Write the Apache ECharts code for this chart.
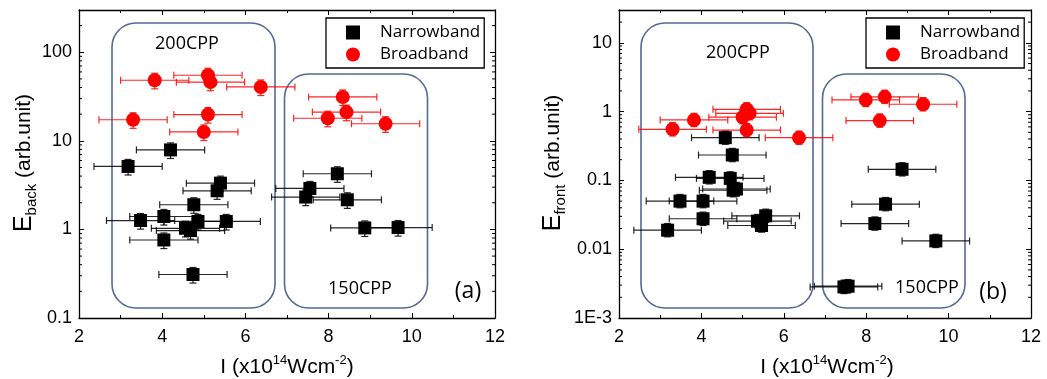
<!DOCTYPE html>
<html>
<head>
<meta charset="utf-8">
<script src="https://cdn.jsdelivr.net/npm/echarts@6/dist/echarts.min.js"></script>
<style>html,body{margin:0;padding:0;background:#fff}#c{width:1047px;height:379px}</style>
</head>
<body>
<div id="c"></div>
<script>
// ---- data ----
// Panel (a): E_back
const backNarrowX = [3.18, 4.20, 5.40, 5.32, 4.76, 3.48, 4.04, 4.86, 5.54, 4.56, 4.68, 4.04, 4.74, 8.21, 7.55, 7.45, 8.45, 8.87, 9.67];
const backNarrowY = [5.14, 7.9, 3.33, 2.73, 1.90, 1.26, 1.40, 1.23, 1.23, 1.03, 0.97, 0.76, 0.31, 4.25, 2.90, 2.32, 2.16, 1.04, 1.05];
const backBroadX = [3.82, 5.10, 5.16, 6.37, 3.30, 5.10, 5.00, 8.34, 7.98, 8.43, 9.37];
const backBroadY = [48.3, 55, 46, 40.6, 17.3, 19.8, 12.6, 31.3, 18.0, 21.1, 15.6];
// Panel (b): E_front
const frontNarrowX = [4.58, 4.75, 4.19, 4.70, 4.77, 4.85, 3.48, 4.04, 4.04, 5.56, 5.36, 5.46, 3.18, 8.87, 8.47, 8.21, 9.69, 7.46, 7.56];
const frontNarrowY = [0.418, 0.234, 0.111, 0.107, 0.072, 0.075, 0.050, 0.050, 0.0277, 0.0306, 0.0256, 0.0221, 0.0189, 0.145, 0.0452, 0.0236, 0.0132, 0.00283, 0.0029];
const frontBroadX = [3.30, 3.82, 5.10, 5.17, 5.00, 5.10, 6.37, 7.99, 8.45, 9.38, 8.33];
const frontBroadY = [0.553, 0.756, 1.08, 0.946, 0.83, 0.54, 0.418, 1.48, 1.64, 1.28, 0.74];
// error estimates
const xErr = 0.82;            // +/- in 1e14 W/cm^2
const backYErrLo = 0.80, backYErrHi = 1.20;   // multiplicative
const frontYErrLo = 0.80, frontYErrHi = 1.25;
// axis settings
const xTicks = [2, 4, 6, 8, 10, 12];
const backYRange = [0.1, 300];
const frontYRange = [0.001, 30];
const seriesNames = ['Narrowband', 'Broadband'];

// ---- helpers ----
const pts = (xs, ys) => xs.map((x, i) => [x, ys[i]]);
const errData = (xs, ys, lo, hi) => xs.map((x, i) => [x, ys[i], x - xErr, x + xErr, ys[i] * lo, ys[i] * hi]);
function minorVals(range) {
  const out = [];
  for (let d = Math.floor(Math.log10(range[0])); d <= Math.ceil(Math.log10(range[1])); d++) {
    for (let k = 2; k <= 9; k++) {
      const v = k * Math.pow(10, d);
      if (v > range[0] && v < range[1]) out.push([3, v]);
    }
  }
  return out;
}
function errRender(color, op) {
  return function (params, api) {
    const x = api.value(0), y = api.value(1);
    const pL = api.coord([api.value(2), y]), pR = api.coord([api.value(3), y]);
    const pB = api.coord([x, api.value(4)]), pT = api.coord([x, api.value(5)]);
    const c = 3.5;
    const st = { stroke: color, lineWidth: 1.2, opacity: op };
    const L = (x1, y1, x2, y2) => ({ type: 'line', shape: { x1, y1, x2, y2 }, style: st });
    return { type: 'group', children: [
      L(pL[0], pL[1], pR[0], pR[1]),
      L(pL[0], pL[1] - c, pL[0], pL[1] + c),
      L(pR[0], pR[1] - c, pR[0], pR[1] + c),
      L(pB[0], pB[1], pT[0], pT[1]),
      L(pB[0] - c, pB[1], pB[0] + c, pB[1]),
      L(pT[0] - c, pT[1], pT[0] + c, pT[1])
    ] };
  };
}
function minorRender(params, api) {
  const cs = params.coordSys;
  const p = api.coord([api.value(0), api.value(1)]);
  const st = { stroke: '#000', lineWidth: 1 };
  return { type: 'group', children: [
    { type: 'line', shape: { x1: cs.x, y1: p[1], x2: cs.x + 3, y2: p[1] }, style: st },
    { type: 'line', shape: { x1: cs.x + cs.width - 3, y1: p[1], x2: cs.x + cs.width, y2: p[1] }, style: st }
  ] };
}
function logLabel(v) {
  const e = Math.round(Math.log10(v));
  if (Math.abs(Math.log10(v) - e) > 1e-6) return '';
  if (e === -3) return '1E-3';
  return String(Math.pow(10, e) < 1 ? Number(Math.pow(10, e).toFixed(-e)) : Math.pow(10, e));
}

const tickFont = { fontFamily: 'Liberation Sans', fontSize: 18, color: '#000' };
const axLine = { show: true, lineStyle: { color: '#000', width: 1.3 } };

function xAxes(grid) {
  const base = { type: 'value', gridIndex: grid, min: xTicks[0], max: xTicks[xTicks.length - 1], interval: 2,
    axisLine: axLine, splitLine: { show: false },
    axisTick: { inside: true, length: 5, lineStyle: { color: '#000', width: 1 } },
    minorTick: { show: true, splitNumber: 2, length: 3, lineStyle: { color: '#000', width: 1 } } };
  return [
    Object.assign({}, base, { position: 'bottom', axisLabel: Object.assign({ margin: 10 }, tickFont) }),
    Object.assign({}, base, { position: 'top', axisLabel: { show: false } })
  ];
}
function yAxes(grid, range) {
  const base = { type: 'log', logBase: 10, gridIndex: grid, min: range[0], max: range[1],
    axisLine: axLine, splitLine: { show: false },
    axisTick: { inside: true, length: 5, lineStyle: { color: '#000', width: 1 } } };
  return [
    Object.assign({}, base, { position: 'left', axisLabel: Object.assign({ margin: 7, formatter: logLabel }, tickFont) }),
    Object.assign({}, base, { position: 'right', axisLabel: { show: false } })
  ];
}

function panelSeries(xi, yi, nX, nY, bX, bY, lo, hi, range) {
  return [
    { name: 'minor', type: 'custom', xAxisIndex: xi, yAxisIndex: yi, renderItem: minorRender, data: minorVals(range), silent: true, z: 5, encode: { x: 0, y: 1 } },
    { name: 'errN', type: 'custom', xAxisIndex: xi, yAxisIndex: yi, renderItem: errRender('#000', 0.85), data: errData(nX, nY, lo, hi), silent: true, z: 2, encode: { x: 0, y: 1 } },
    { name: 'errB', type: 'custom', xAxisIndex: xi, yAxisIndex: yi, renderItem: errRender('#ff0000', 0.85), data: errData(bX, bY, lo, hi), silent: true, z: 2, encode: { x: 0, y: 1 } },
    { name: seriesNames[0], type: 'scatter', xAxisIndex: xi, yAxisIndex: yi, symbol: 'rect', symbolSize: 13, itemStyle: { color: '#000', opacity: 1 }, data: pts(nX, nY), z: 3 },
    { name: seriesNames[1], type: 'scatter', xAxisIndex: xi, yAxisIndex: yi, symbol: 'circle', symbolSize: 14, itemStyle: { color: '#ff0000', opacity: 1 }, data: pts(bX, bY), z: 4 }
  ];
}

const boxStyle = { fill: 'none', stroke: '#536a94', lineWidth: 1.6 };
const annFont = 'Open Sans';
function txt(x, y, t, size) {
  return { type: 'text', x, y, style: { text: t, fontFamily: annFont, fontSize: size, fill: '#000', align: 'center', verticalAlign: 'middle' }, z: 10 };
}
function yTitle(x, y, sub) {
  return { type: 'text', x, y, rotation: Math.PI / 2, z: 10,
    style: { text: '{e|E}{s|' + sub + '}{m| (arb.unit)}', align: 'center', verticalAlign: 'middle', fill: '#000',
      rich: { e: { fontFamily: 'Liberation Sans', fontSize: 25, lineHeight: 30, fill: '#000' },
              s: { fontFamily: 'Liberation Sans', fontSize: 15, lineHeight: 15, verticalAlign: 'bottom', fill: '#000' },
              m: { fontFamily: 'Liberation Sans', fontSize: 21, lineHeight: 30, fill: '#000' } } } };
}
function xTitle(x, y) {
  return { type: 'text', x, y, z: 10,
    style: { text: '{m|I (x10}{s|14}{m|Wcm}{s|-2}{m|)}', align: 'center', verticalAlign: 'middle', fill: '#000',
      rich: { m: { fontFamily: 'Liberation Sans', fontSize: 21, lineHeight: 26, fill: '#000' },
              s: { fontFamily: 'Liberation Sans', fontSize: 13, lineHeight: 13, verticalAlign: 'top', fill: '#000' } } } };
}
function legend(left) {
  return { left, top: 18, orient: 'vertical', data: seriesNames, itemWidth: 14, itemHeight: 14, itemGap: 5,
    padding: [6, 4, 5, 20], borderColor: '#000', borderWidth: 1.3, backgroundColor: '#fff',
    formatter: n => '{t|' + n + '}',
    textStyle: { fontFamily: annFont, fontSize: 17, color: '#000',
      rich: { t: { fontFamily: annFont, fontSize: 17, color: '#000', padding: [0, 0, 0, 15] } } },
    selectedMode: false };
}

const chart = echarts.init(document.getElementById('c'), null, { renderer: 'canvas' });
chart.setOption({
  animation: false,
  backgroundColor: '#fff',
  grid: [
    { left: 79, top: 10, width: 416, height: 308 },
    { left: 619, top: 10, width: 412, height: 308 }
  ],
  xAxis: xAxes(0).concat(xAxes(1)),
  yAxis: yAxes(0, backYRange).concat(yAxes(1, frontYRange)),
  legend: [legend(326), legend(866)],
  series: panelSeries(0, 0, backNarrowX, backNarrowY, backBroadX, backBroadY, backYErrLo, backYErrHi, backYRange)
    .concat(panelSeries(2, 2, frontNarrowX, frontNarrowY, frontBroadX, frontBroadY, frontYErrLo, frontYErrHi, frontYRange)),
  graphic: [
    { type: 'rect', shape: { x: 112, y: 23, width: 163, height: 285, r: 24 }, style: boxStyle, z: 0 },
    { type: 'rect', shape: { x: 284.5, y: 74, width: 143, height: 234, r: 24 }, style: boxStyle, z: 0 },
    { type: 'rect', shape: { x: 641, y: 23, width: 172, height: 285, r: 24 }, style: boxStyle, z: 0 },
    { type: 'rect', shape: { x: 822.5, y: 74, width: 142.5, height: 234, r: 24 }, style: boxStyle, z: 0 },
    txt(187, 44, '200CPP', 18),
    txt(360, 289, '150CPP', 18),
    txt(468, 291, '(a)', 23),
    txt(738, 53, '200CPP', 18),
    txt(927, 288, '150CPP', 18),
    txt(993, 292, '(b)', 23),
    yTitle(24, 163, 'back'),
    yTitle(553, 163, 'front'),
    xTitle(287, 367),
    xTitle(827, 367)
  ]
});
</script>
</body>
</html>
